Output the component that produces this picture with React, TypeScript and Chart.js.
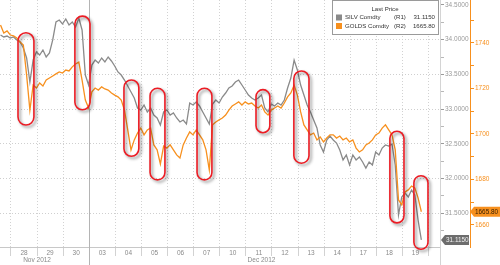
import React, { useEffect, useRef } from 'react';
import { Chart, registerables } from 'chart.js';

Chart.register(...registerables);

// ---- data ----
const dayLabels = ['28', '29', '30', '03', '04', '05', '06', '07', '10', '11', '12', '13', '14', '17', '18', '19'];
const monthLabels = ['Nov 2012', 'Dec 2012'];
const monthLabelAt = [1.0, 9.6];
const monthBoundary = 3;
const samplesPerDay = 8;
const firstSampleDay = -0.4;

const silverName = 'SILV Comdty';
const goldName = 'GOLDS Comdty';

const silver = [
  34.068, 34.039, 34.053, 34.025, 34.039, 33.996, 33.967, 33.880, 33.736, 33.390,
  33.707, 33.823, 33.779, 33.852, 33.751, 33.808, 33.996, 34.255, 34.284, 34.226,
  34.298, 34.212, 34.255, 34.183, 34.313, 34.140, 33.491, 33.347, 33.635, 33.707,
  33.664, 33.736, 33.679, 33.751, 33.693, 33.621, 33.535, 33.491, 33.419, 33.333,
  33.246, 33.160, 33.016, 32.987, 33.059, 32.958, 33.016, 32.915, 32.872, 32.771,
  32.958, 32.987, 32.915, 32.944, 32.872, 32.814, 32.843, 32.785, 33.088, 33.059,
  33.102, 33.045, 32.958, 32.872, 32.785, 33.073, 33.131, 33.088, 33.174, 33.232,
  33.304, 33.333, 33.390, 33.419, 33.347, 33.275, 33.203, 33.160, 33.131, 33.160,
  33.203, 33.016, 32.958, 33.073, 33.045, 33.088, 33.059, 33.131, 33.304, 33.448,
  33.707, 33.563, 33.347, 33.203, 33.059, 32.958, 32.843, 32.728, 32.483, 32.382,
  32.555, 32.612, 32.555, 32.511, 32.411, 32.267, 32.339, 32.195, 32.339, 32.267,
  32.310, 32.238, 32.151, 32.238, 32.195, 32.382, 32.339, 32.439, 32.483, 32.468,
  32.497, 32.195, 31.474, 31.734, 31.791, 31.734, 31.834, 31.762, 31.402, 31.115,
];

const gold = [
  1747.9, 1744.4, 1745.3, 1743.5, 1743.1, 1742.2, 1740.4, 1739.1, 1725.9, 1710.5,
  1721.5, 1720.2, 1722.4, 1721.1, 1723.7, 1724.6, 1725.5, 1726.4, 1727.3, 1726.8,
  1728.1, 1727.7, 1729.5, 1730.8, 1731.6, 1723.7, 1714.9, 1711.4, 1718.5, 1720.2,
  1719.3, 1720.7, 1719.8, 1719.3, 1718.0, 1717.1, 1716.3, 1714.9, 1710.5, 1701.8,
  1693.0, 1697.4, 1700.4, 1702.6, 1699.6, 1701.8, 1702.6, 1695.2, 1693.0, 1686.8,
  1694.7, 1693.8, 1695.2, 1693.0, 1690.8, 1689.4, 1695.2, 1698.2, 1700.9, 1699.6,
  1701.8, 1699.6, 1697.4, 1693.0, 1684.2, 1704.0, 1705.3, 1706.2, 1707.0, 1708.3,
  1710.5, 1712.3, 1713.2, 1714.1, 1712.7, 1714.1, 1713.2, 1713.6, 1712.3, 1711.4,
  1712.7, 1709.7, 1708.3, 1710.5, 1711.4, 1712.3, 1711.4, 1713.6, 1716.3, 1718.0,
  1721.5, 1717.1, 1709.7, 1704.0, 1701.8, 1699.6, 1700.4, 1697.4, 1698.7, 1696.5,
  1698.2, 1699.6, 1699.6, 1698.2, 1699.1, 1697.4, 1698.2, 1696.5, 1697.4, 1693.8,
  1692.1, 1693.0, 1695.2, 1696.0, 1697.4, 1699.6, 1700.4, 1702.6, 1704.0, 1701.8,
  1699.6, 1693.0, 1671.0, 1668.8, 1674.5, 1675.4, 1677.1, 1676.3, 1671.9, 1665.8,
];

const silverMajorTicks = [31.5, 32.0, 32.5, 33.0, 33.5, 34.0, 34.5];
const silverMinorTicks = [31.25, 31.75, 32.25, 32.75, 33.25, 33.75, 34.25];
const goldMajorTicks = [1660, 1680, 1700, 1720, 1740];
const goldMinorTicks = [1670, 1690, 1710, 1730, 1750];

// highlighted episodes (x in trading days, y in silver price)
const markFromDay = [0.27, 2.45, 4.33, 5.33, 7.13, 9.39, 10.84, 14.52, 15.44];
const markToDay = [0.88, 3.03, 4.9, 5.9, 7.7, 9.92, 11.42, 15.06, 15.98];
const markHigh = [34.1, 34.34, 33.42, 33.3, 33.3, 33.28, 33.55, 32.68, 32.04];
const markLow = [32.77, 32.99, 32.32, 31.98, 31.98, 32.66, 32.22, 31.36, 30.98];

const SILVER_COLOR = '#8a8a8a';
const GOLD_COLOR = '#f7901e';
const FONT = '"Liberation Sans", Arial, sans-serif';

const overlayPlugin = {
  id: 'overlay',
  beforeDraw(chart: any) {
    const { ctx } = chart;
    ctx.save();
    ctx.fillStyle = '#ffffff';
    ctx.fillRect(0, 0, chart.width, chart.height);
    ctx.restore();
  },
  afterDraw(chart: any) {
    const { ctx, chartArea, scales } = chart;
    const xs = scales.x;
    const ys = scales.y;
    const yg = scales.y2;
    ctx.save();

    // month separator extension & silver axis extension
    const sepX = Math.round(xs.getPixelForValue(monthBoundary)) + 0.5;
    ctx.strokeStyle = '#b4b4b4';
    ctx.lineWidth = 1;
    ctx.beginPath();
    ctx.moveTo(sepX, chartArea.top);
    ctx.lineTo(sepX, chart.height);
    ctx.stroke();
    ctx.strokeStyle = '#d4d4d4';
    ctx.beginPath();
    ctx.moveTo(chartArea.right + 0.5, chartArea.bottom);
    ctx.lineTo(chartArea.right + 0.5, chart.height);
    ctx.stroke();

    // red rounded marks
    for (let i = 0; i < markFromDay.length; i++) {
      const x1 = xs.getPixelForValue(markFromDay[i]);
      const x2 = xs.getPixelForValue(markToDay[i]);
      const y1 = ys.getPixelForValue(markHigh[i]);
      const y2 = ys.getPixelForValue(markLow[i]);
      const w = x2 - x1;
      const r = w / 2;
      ctx.save();
      ctx.shadowColor = 'rgba(0,0,0,0.45)';
      ctx.shadowBlur = 3;
      ctx.shadowOffsetX = 2;
      ctx.shadowOffsetY = 2;
      ctx.strokeStyle = '#ec1c24';
      ctx.lineWidth = 1.6;
      ctx.beginPath();
      ctx.moveTo(x1 + r, y1);
      ctx.arc(x1 + r, y1 + r, r, -Math.PI / 2, 0, false);
      ctx.lineTo(x2, y2 - r);
      ctx.arc(x1 + r, y2 - r, r, 0, Math.PI, false);
      ctx.lineTo(x1, y1 + r);
      ctx.arc(x1 + r, y1 + r, r, Math.PI, Math.PI * 1.5, false);
      ctx.closePath();
      ctx.stroke();
      ctx.restore();
    }

    // legend box
    const silverLast = silver[silver.length - 1];
    const goldLast = gold[gold.length - 1];
    const lx = chartArea.right - 108;
    const ly = 0;
    ctx.fillStyle = '#ffffff';
    ctx.fillRect(lx + 0.5, ly + 0.5, 106, 34);
    ctx.strokeStyle = '#9a9a9a';
    ctx.lineWidth = 1;
    ctx.strokeRect(lx + 0.5, ly + 0.5, 106, 34);
    ctx.font = '6.1px ' + FONT;
    ctx.fillStyle = '#333333';
    ctx.textBaseline = 'middle';
    ctx.textAlign = 'center';
    ctx.fillText('Last Price', lx + 53, ly + 9);
    const rows = [
      { name: silverName, axis: '(R1)', val: silverLast.toFixed(4), color: SILVER_COLOR, y: ly + 17.5 },
      { name: goldName, axis: '(R2)', val: goldLast.toFixed(2), color: GOLD_COLOR, y: ly + 26 },
    ];
    rows.forEach((r) => {
      ctx.fillStyle = r.color;
      ctx.fillRect(lx + 4, r.y - 3, 6, 6);
      ctx.fillStyle = '#333333';
      ctx.textAlign = 'left';
      ctx.fillText(r.name, lx + 13, r.y);
      ctx.fillText(r.axis, lx + 62, r.y);
      ctx.textAlign = 'right';
      ctx.fillText(r.val, lx + 103, r.y);
    });

    // last value tags
    const drawTag = (tipX: number, y: number, w: number, fill: string, text: string, textColor: string) => {
      ctx.fillStyle = fill;
      ctx.beginPath();
      ctx.moveTo(tipX, y);
      ctx.lineTo(tipX + 4, y - 5);
      ctx.lineTo(tipX + w, y - 5);
      ctx.lineTo(tipX + w, y + 5);
      ctx.lineTo(tipX + 4, y + 5);
      ctx.closePath();
      ctx.fill();
      ctx.fillStyle = textColor;
      ctx.textAlign = 'left';
      ctx.textBaseline = 'middle';
      ctx.font = '6.4px ' + FONT;
      ctx.fillText(text, tipX + 5, y + 0.5);
    };
    drawTag(chartArea.right + 1, ys.getPixelForValue(silverLast), 28, '#6d6d6d', silverLast.toFixed(4), '#f0f0f0');
    drawTag(yg.left, yg.getPixelForValue(goldLast), 30, GOLD_COLOR, goldLast.toFixed(2), '#3a2000');

    ctx.restore();
  },
};

export default function App() {
  const canvasRef = useRef<HTMLCanvasElement | null>(null);

  useEffect(() => {
    if (!canvasRef.current) return;
    const silverPts = silver.map((v, i) => ({ x: firstSampleDay + i / samplesPerDay, y: v }));
    const goldPts = gold.map((v, i) => ({ x: firstSampleDay + i / samplesPerDay, y: v }));

    const xTicks: any[] = [];
    for (let d = 0; d <= dayLabels.length; d++) xTicks.push({ value: d, kind: 'grid', text: '' });
    dayLabels.forEach((l, i) => xTicks.push({ value: i + 0.5, kind: 'day', text: l }));
    monthLabels.forEach((l, i) => xTicks.push({ value: monthLabelAt[i], kind: 'month', text: ['', l] }));
    xTicks.sort((a, b) => a.value - b.value);

    const chart = new Chart(canvasRef.current, {
      type: 'line',
      data: {
        datasets: [
          {
            label: silverName,
            data: silverPts,
            yAxisID: 'y',
            borderColor: SILVER_COLOR,
            borderWidth: 1.3,
            pointRadius: 0,
            tension: 0,
            order: 1,
          },
          {
            label: goldName,
            data: goldPts,
            yAxisID: 'y2',
            borderColor: GOLD_COLOR,
            borderWidth: 1.3,
            pointRadius: 0,
            tension: 0,
            order: 0,
          },
        ],
      },
      options: {
        animation: false,
        responsive: false,
        layout: { padding: 0, autoPadding: false },
        plugins: { legend: { display: false }, tooltip: { enabled: false }, title: { display: false } },
        scales: {
          x: {
            type: 'linear',
            position: 'bottom',
            min: -0.42,
            max: 16.44,
            afterBuildTicks: (scale: any) => {
              scale.ticks = xTicks.map((t) => ({ ...t }));
            },
            afterFit: (scale: any) => {
              scale.height = 18;
              scale.paddingLeft = 0;
              scale.paddingRight = 0;
            },
            grid: {
              color: (c: any) =>
                c.tick && c.tick.kind === 'grid' ? (c.tick.value === monthBoundary ? '#b4b4b4' : '#d2d2d2') : 'rgba(0,0,0,0)',
              tickColor: (c: any) =>
                c.tick && c.tick.kind === 'grid' ? (c.tick.value === monthBoundary ? '#b4b4b4' : '#d2d2d2') : 'rgba(0,0,0,0)',
              tickLength: 9,
              lineWidth: 1,
            },
            border: {
              display: true,
              color: '#c8c8c8',
              dash: (c: any) => (c.tick && c.tick.value === monthBoundary ? [] : [1, 2]),
            },
            ticks: {
              autoSkip: false,
              maxRotation: 0,
              minRotation: 0,
              padding: -7,
              color: '#8a8a8a',
              font: { family: FONT, size: 6.5 },
              callback: (_v: any, i: number, ticks: any[]) => ticks[i].text,
            },
          },
          y: {
            type: 'linear',
            position: 'right',
            weight: 0,
            min: 31.013,
            max: 34.572,
            afterBuildTicks: (scale: any) => {
              scale.ticks = [
                ...silverMajorTicks.map((v) => ({ value: v, kind: 'major' })),
                ...silverMinorTicks.map((v) => ({ value: v, kind: 'minor' })),
              ].sort((a, b) => a.value - b.value);
            },
            afterFit: (scale: any) => {
              scale.width = 30;
              scale.paddingTop = 0;
              scale.paddingBottom = 0;
            },
            grid: {
              color: (c: any) =>
                c.tick && c.tick.kind === 'major' && c.tick.value < 34.4 ? '#cfcfcf' : 'rgba(0,0,0,0)',
              tickColor: (c: any) => (c.tick && c.tick.kind === 'major' ? '#9a9a9a' : '#b8b8b8'),
              tickLength: 4,
            },
            border: { display: true, color: '#d4d4d4', dash: [1, 2] },
            ticks: {
              autoSkip: false,
              padding: 1,
              color: '#9a9a9a',
              font: { family: FONT, size: 6.5 },
              callback: (v: any, i: number, ticks: any[]) => (ticks[i].kind === 'major' ? Number(v).toFixed(4) : ''),
            },
          },
          y2: {
            type: 'linear',
            position: 'right',
            weight: 1,
            min: 1650.3,
            max: 1758.9,
            afterBuildTicks: (scale: any) => {
              scale.ticks = [
                ...goldMajorTicks.map((v) => ({ value: v, kind: 'major' })),
                ...goldMinorTicks.map((v) => ({ value: v, kind: 'minor' })),
              ].sort((a, b) => a.value - b.value);
            },
            afterFit: (scale: any) => {
              scale.width = 30;
              scale.paddingTop = 0;
              scale.paddingBottom = 0;
            },
            grid: {
              drawOnChartArea: false,
              color: GOLD_COLOR,
              tickColor: GOLD_COLOR,
              tickLength: 4,
            },
            border: { display: true, color: GOLD_COLOR },
            ticks: {
              autoSkip: false,
              padding: 1,
              color: GOLD_COLOR,
              font: { family: FONT, size: 6.5 },
              callback: (v: any, i: number, ticks: any[]) => (ticks[i].kind === 'major' ? String(v) : ''),
            },
          },
        },
      },
      plugins: [overlayPlugin],
    } as any);

    return () => chart.destroy();
  }, []);

  return (
    <div style={{ position: 'absolute', left: 0, top: 0, width: 500, height: 265, background: '#fff' }}>
      <canvas ref={canvasRef} width={500} height={265} style={{ display: 'block', width: 500, height: 265 }} />
    </div>
  );
}
